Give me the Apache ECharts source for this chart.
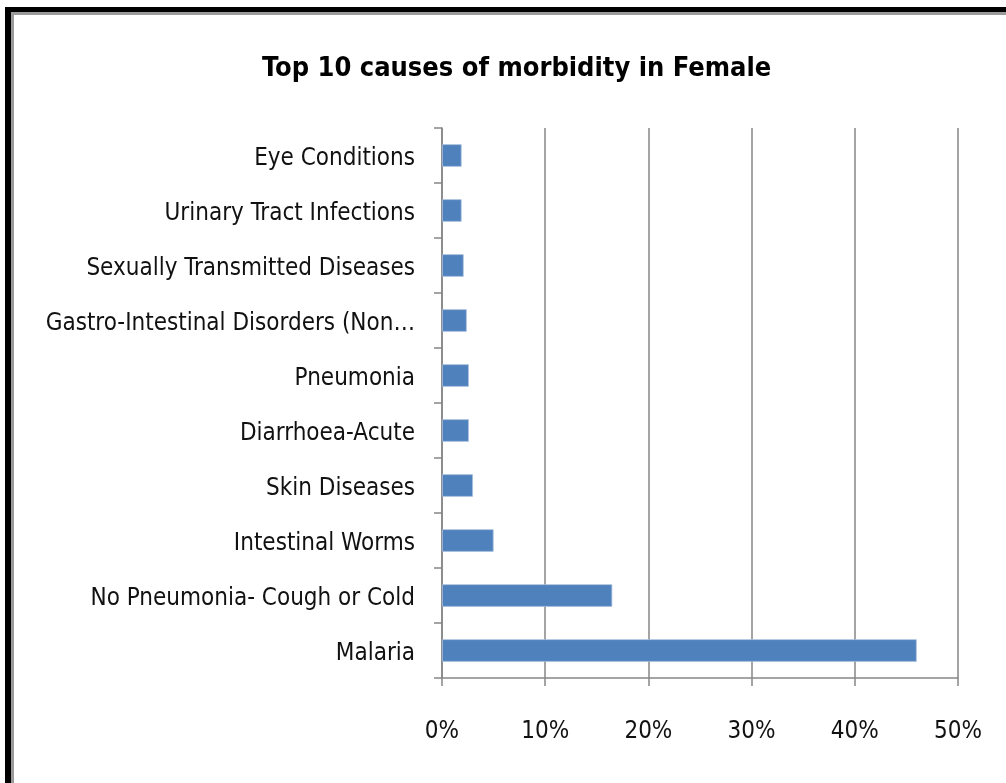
<!DOCTYPE html>
<html>
<head>
<meta charset="utf-8">
<script src="https://cdn.jsdelivr.net/npm/echarts@6/dist/echarts.min.js"></script>
<style>
html,body{margin:0;padding:0;background:#fff;}
#c{width:1006px;height:783px;}
</style>
</head>
<body>
<div id="c"></div>
<script>
// Categories listed top to bottom as they appear in the chart
const categories = [
  "Eye Conditions",
  "Urinary Tract Infections",
  "Sexually Transmitted Diseases",
  "Gastro-Intestinal Disorders (Non-Infective)",
  "Pneumonia",
  "Diarrhoea-Acute",
  "Skin Diseases",
  "Intestinal Worms",
  "No Pneumonia- Cough or Cold",
  "Malaria"
];
// Share of morbidity cases (fraction)
const values = [0.019, 0.019, 0.021, 0.024, 0.026, 0.026, 0.030, 0.050, 0.165, 0.460];
const xTicks = [0, 0.1, 0.2, 0.3, 0.4, 0.5];
const titleText = "Top 10 causes of morbidity in Female";

const labelFont = "'Liberation Sans Narrow', 'DejaVu Sans Condensed', 'Open Sans', sans-serif";
const chart = echarts.init(document.getElementById('c'), null, {renderer: 'canvas'});
chart.setOption({
  animation: false,
  backgroundColor: '#ffffff',
  title: {
    text: titleText,
    left: 257,
    top: 50,
    textStyle: {fontFamily: labelFont, fontWeight: 'bold', fontSize: 27, color: '#000'}
  },
  grid: {left: 442, right: 48, top: 128, bottom: 105, containLabel: false},
  xAxis: {
    type: 'value',
    min: xTicks[0],
    max: xTicks[xTicks.length - 1],
    interval: 0.1,
    axisLine: {show: true, lineStyle: {color: '#868686', width: 1.5}},
    axisTick: {show: true, length: 8, lineStyle: {color: '#868686', width: 1.5}},
    splitLine: {show: true, lineStyle: {color: '#868686', width: 1.5}},
    axisLabel: {
      margin: 42,
      fontFamily: labelFont, fontSize: 24, color: '#111',
      formatter: v => Math.round(v * 100) + '%'
    }
  },
  yAxis: {
    type: 'category',
    inverse: true,
    data: categories,
    axisLine: {show: true, lineStyle: {color: '#868686', width: 1.5}},
    axisTick: {show: true, length: 8, alignWithLabel: false, lineStyle: {color: '#868686', width: 1.5}},
    axisLabel: {
      margin: 27,
      fontFamily: labelFont, fontSize: 24, color: '#111',
      width: 372, overflow: 'truncate', ellipsis: '…',
      formatter: v => '{a|' + v + '}',
      rich: {a: {fontFamily: labelFont, fontSize: 24, color: '#111', padding: [6, 0, 0, 0]}}
    }
  },
  series: [{
    type: 'bar',
    data: values,
    barCategoryGap: '59%',
    itemStyle: {color: '#4F81BD', borderColor: '#a9c0de', borderWidth: 0.8}
  }],
  graphic: [
    {type: 'rect', shape: {x: 11, y: 12, width: 3, height: 771}, style: {fill: '#9a9a9a'}},
    {type: 'rect', shape: {x: 11, y: 12, width: 995, height: 3}, style: {fill: '#9a9a9a'}},
    {type: 'rect', shape: {x: 5, y: 7, width: 6, height: 776}, style: {fill: '#000'}},
    {type: 'rect', shape: {x: 5, y: 7, width: 1001, height: 5}, style: {fill: '#000'}}
  ]
});
</script>
</body>
</html>
